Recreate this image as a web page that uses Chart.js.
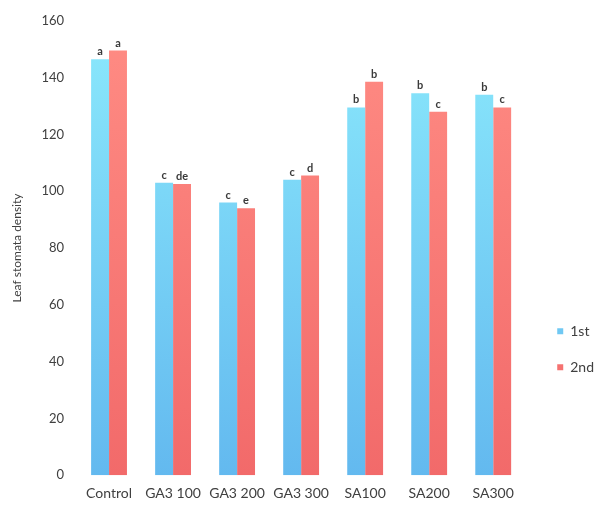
<!DOCTYPE html>
<html>
<head>
<meta charset="utf-8">
<script src="https://cdn.jsdelivr.net/npm/chart.js@4"></script>
<style>
body { margin: 0; background: #fff; }
#grafica { width: 604px; height: 512px; }
</style>
</head>
<body>
<div id="grafica"><canvas id="myChart"></canvas></div>
<script>
const tratamientos = ["Control", "GA3 100", "GA3 200", "GA3 300", "SA100", "SA200", "SA300"]
const primera = [146.5, 103, 96, 104, 129.5, 134.5, 134]
const segunda = [149.5, 102.5, 94, 105.5, 138.5, 128, 129.5]
const letras_primera = ["a", "c", "c", "c", "b", "b", "b"]
const letras_segunda = ["a", "de", "e", "d", "b", "c", "c"]
const eje_y = { min: 0, max: 160, paso: 20 }

const fuente = "Lato, 'Open Sans', sans-serif"

// degradado vertical para cada serie
function degradado(ctx, arriba, abajo) {
    const area = ctx.chart.chartArea
    if (!area) return abajo
    const g = ctx.chart.ctx.createLinearGradient(0, area.top, 0, area.bottom)
    g.addColorStop(0, arriba)
    g.addColorStop(1, abajo)
    return g
}

// letras de significancia encima de cada barra
const letrasPlugin = {
    id: "letras",
    afterDatasetsDraw(chart) {
        const ctx = chart.ctx
        const letras = [letras_primera, letras_segunda]
        ctx.save()
        ctx.font = "bold 11px " + fuente
        ctx.fillStyle = "#3a3a3a"
        ctx.textAlign = "center"
        ctx.textBaseline = "bottom"
        chart.data.datasets.forEach((ds, i) => {
            chart.getDatasetMeta(i).data.forEach((bar, j) => {
                ctx.fillText(letras[i][j], bar.x, bar.y - 2)
            })
        })
        ctx.restore()
    }
}

const config = {
    type: "bar",
    data: {
        labels: tratamientos,
        datasets: [
            {
                label: "1st",
                data: primera,
                backgroundColor: (c) => degradado(c, "#8be9fc", "#63b9ef")
            },
            {
                label: "2nd",
                data: segunda,
                backgroundColor: (c) => degradado(c, "#ff8c84", "#f26a6a")
            }
        ]
    },
    options: {
        responsive: true,
        maintainAspectRatio: false,
        animation: false,
        datasets: {
            bar: { categoryPercentage: 0.56, barPercentage: 1.0 }
        },
        layout: { padding: { top: 13, left: 6, right: 0, bottom: 0 } },
        plugins: {
            tooltip: { enabled: false },
            legend: {
                position: "right",
                align: "center",
                title: { display: true, text: "", padding: { top: 159, bottom: 0 } },
                labels: {
                    boxWidth: 6,
                    boxHeight: 6,
                    padding: 22,
                    color: "#404040",
                    font: { family: fuente, size: 14 }
                }
            }
        },
        scales: {
            x: {
                grid: { display: false, drawTicks: false },
                border: { display: false },
                ticks: { color: "#404040", padding: 10, font: { family: fuente, size: 14 }, maxRotation: 0, autoSkip: false }
            },
            y: {
                min: eje_y.min,
                max: eje_y.max,
                grid: { display: false, drawTicks: false },
                border: { display: false },
                ticks: { stepSize: eje_y.paso, color: "#404040", padding: 13, font: { family: fuente, size: 13 } },
                title: { display: true, text: "Leaf stomata density", color: "#404040", font: { family: fuente, size: 12 } }
            },
            // eje vacío: solo deja espacio entre las barras y la leyenda
            hueco: {
                position: "right",
                grid: { display: false },
                border: { display: false },
                ticks: { display: false },
                afterFit: (s) => { s.width = 10 }
            }
        }
    },
    plugins: [letrasPlugin]
}

const chart = new Chart(document.getElementById("myChart"), config)
</script>
</body>
</html>
